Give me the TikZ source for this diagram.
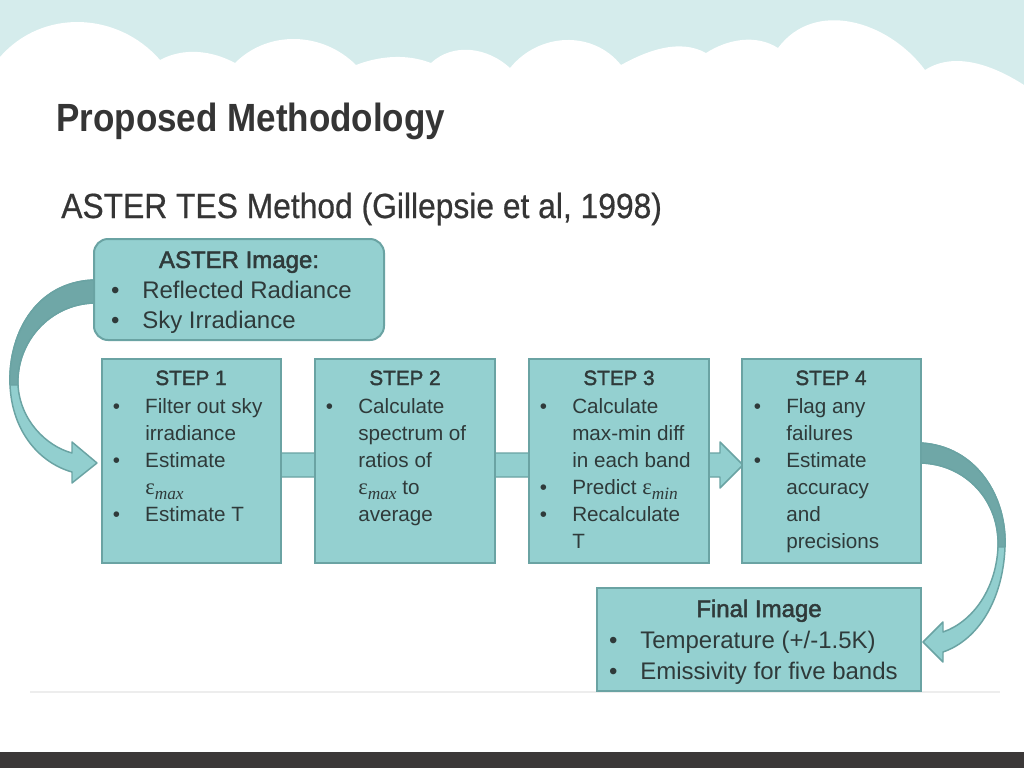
\documentclass[tikz,border=0pt]{standalone}
\usepackage{fontspec}
\setmainfont{Liberation Sans}
\newfontfamily\titlefont[FakeStretch=0.89]{Liberation Sans}
\newfontfamily\subfont[FakeStretch=0.91,FakeBold=0.6]{Liberation Sans}
\newfontfamily\headfont[FakeBold=2]{Liberation Sans}
\newfontfamily\epsfont{Liberation Serif}
\usetikzlibrary{fit}
\definecolor{boxfill}{HTML}{94D0D0}
\definecolor{boxline}{HTML}{6AA3A3}
\definecolor{arrdark}{HTML}{6FA7A7}
\definecolor{arrlight}{HTML}{92CFCF}
\definecolor{skycol}{HTML}{D5ECEC}
\definecolor{txtcol}{HTML}{2F3A3A}
\definecolor{titlecol}{HTML}{353535}
\definecolor{barcol}{HTML}{3B3838}
\definecolor{faintcol}{HTML}{EDEDED}
\newcommand{\bu}{\llap{\textbullet\hspace{18.8pt}}}
\newcommand{\bub}{\llap{\textbullet\hspace{17pt}}}
\newcommand{\epsx}[1]{{\epsfont\fontsize{17}{18}\selectfont ε\raisebox{-0.25em}{\itshape\fontsize{13}{14}\selectfont #1}}}
\newcommand{\tline}[5]{\node[#1,anchor=base west] (#2) at (#3,#4) {#5};}
\newcommand{\thead}[5]{\node[#1,anchor=base] (#2) at (#3,#4) {#5};}
\begin{document}
\begin{tikzpicture}[x=0.75pt,y=-0.75pt,
  boxstyle/.style={draw=boxline, line width=1.5pt, fill=boxfill, inner sep=0pt},
  arrstyle/.style={draw=boxline, line width=1.1pt, line join=round},
  bodytxt/.style={inner sep=0pt, text=txtcol, font=\fontsize{15.5}{18}\selectfont},
  bodyhead/.style={inner sep=0pt, text=txtcol, font=\headfont\fontsize{15.5}{18}\selectfont},
  bigtxt/.style={inner sep=0pt, text=txtcol, font=\fontsize{18}{21}\selectfont},
  bighead/.style={inner sep=0pt, text=txtcol, font=\headfont\fontsize{18}{21}\selectfont},
  titletxt/.style={inner sep=0pt, text=titlecol, font=\titlefont\bfseries\fontsize{29.5}{33}\selectfont},
  subtxt/.style={inner sep=0pt, text=titlecol, font=\subfont\fontsize{26.2}{30}\selectfont}
]
\useasboundingbox (0,0) rectangle (1024,768);
% background
\fill[white] (0,0) rectangle (1024,768);
\fill[skycol] (0,0) rectangle (1024,110);
\fill[white] (0,57) .. controls (42.2,8.4) and (117.8,11.4) .. (160,60)
 .. controls (183.4,47.3) and (211.6,50.3) .. (235,63)
 .. controls (268.4,29.7) and (322.6,31.7) .. (356,65)
 .. controls (380.2,55.7) and (406.8,53.7) .. (431,63)
 .. controls (453.3,42.3) and (487.7,47.3) .. (510,68)
 .. controls (538.6,32.7) and (592.4,29.7) .. (621,65)
 .. controls (647.4,50.4) and (679.6,38.4) .. (706,53)
 .. controls (727.9,39) and (756.1,34) .. (778,48)
 .. controls (814.6,-1.3) and (888.4,20.7) .. (925,70)
 .. controls (955.1,50.7) and (993.9,65.7) .. (1024,85)
 -- (1024,130) -- (0,130) -- cycle;
\fill[barcol] (0,752) rectangle (1024,768);
\draw[faintcol, line width=0.8pt] (30,692) -- (1000,692);

% titles
\node[titletxt, anchor=base west] (title) at (56,131) {Proposed Methodology};
\node[subtxt, anchor=base west] (subtitle) at (61,218) {ASTER TES Method (Gillepsie et al, 1998)};

% box corners
\coordinate (s1tl) at (102,359); \coordinate (s1br) at (281,563);
\coordinate (s2tl) at (315,359); \coordinate (s2br) at (495,563);
\coordinate (s3tl) at (529,359); \coordinate (s3br) at (709,563);
\coordinate (s4tl) at (742,359); \coordinate (s4br) at (921,563);

% straight block arrow behind the steps
\draw[arrstyle, fill=arrlight] (200,453) -- (720,453) -- (720,442) -- (743,465)
  -- (720,488) -- (720,477) -- (200,477) -- cycle;

% left curved arrow (ASTER -> STEP 1)
\draw[arrstyle, fill=arrlight] (100,280) -- (94,280) .. controls (35,282) and (8,335) .. (10,385)
  .. controls (12,432) and (40,463) .. (72,472) -- (72,483) -- (97,463) -- (72,442) -- (72,453)
  .. controls (46,446) and (20,420) .. (18,385) .. controls (16,342) and (50,304) .. (94,303)
  -- (100,303) -- cycle;
\draw[arrstyle, fill=arrdark] (100,280) -- (94,280) .. controls (35,282) and (8,335) .. (10,385)
  -- (18,385) .. controls (16,342) and (50,304) .. (94,303) -- (100,303) -- cycle;

% right curved arrow (STEP 4 -> Final)
\draw[arrstyle, fill=arrlight] (915,443) -- (921,443) .. controls (975,446) and (1007,495) .. (1005,547)
  .. controls (1003,600) and (978,640) .. (943,652) -- (943,662) -- (923,642) -- (943,622) -- (943,632)
  .. controls (972,622) and (996,590) .. (998,547) .. controls (1000,500) and (965,464) .. (921,463)
  -- (915,463) -- cycle;
\draw[arrstyle, fill=arrdark] (915,443) -- (921,443) .. controls (975,446) and (1007,495) .. (1005,547)
  -- (998,547) .. controls (1000,500) and (965,464) .. (921,463) -- (915,463) -- cycle;

% boxes
\node[boxstyle, rounded corners=10.5pt, fit={(94,239) (384,340)}] (aster) {};
\node[boxstyle, fit=(s1tl)(s1br)] (s1) {};
\node[boxstyle, fit=(s2tl)(s2br)] (s2) {};
\node[boxstyle, fit=(s3tl)(s3br)] (s3) {};
\node[boxstyle, fit=(s4tl)(s4br)] (s4) {};
\node[boxstyle, fit={(597,588) (921,691)}] (final) {};

% ASTER box text
\thead{bighead}{asterh}{239}{268}{ASTER Image:}
\tline{bigtxt}{astera}{142}{298}{\bub Reflected Radiance}
\tline{bigtxt}{asterb}{142}{328}{\bub Sky Irradiance}

% STEP 1
\thead{bodyhead}{s1h}{191}{385}{STEP 1}
\tline{bodytxt}{s1a}{145}{413}{\bu Filter out sky}
\tline{bodytxt}{s1b}{145}{440}{irradiance}
\tline{bodytxt}{s1c}{145}{467}{\bu Estimate}
\tline{bodytxt}{s1d}{145}{494}{\epsx{max}}
\tline{bodytxt}{s1e}{145}{521}{\bu Estimate T}

% STEP 2
\thead{bodyhead}{s2h}{405}{385}{STEP 2}
\tline{bodytxt}{s2a}{358}{413}{\bu Calculate}
\tline{bodytxt}{s2b}{358}{440}{spectrum of}
\tline{bodytxt}{s2c}{358}{467}{ratios of}
\tline{bodytxt}{s2d}{358}{494}{\epsx{max} to}
\tline{bodytxt}{s2e}{358}{521}{average}

% STEP 3
\thead{bodyhead}{s3h}{619}{385}{STEP 3}
\tline{bodytxt}{s3a}{572}{413}{\bu Calculate}
\tline{bodytxt}{s3b}{572}{440}{max-min diff}
\tline{bodytxt}{s3c}{572}{467}{in each band}
\tline{bodytxt}{s3d}{572}{494}{\bu Predict \epsx{min}}
\tline{bodytxt}{s3e}{572}{521}{\bu Recalculate}
\tline{bodytxt}{s3f}{572}{548}{T}

% STEP 4
\thead{bodyhead}{s4h}{831}{385}{STEP 4}
\tline{bodytxt}{s4a}{786}{413}{\bu Flag any}
\tline{bodytxt}{s4b}{786}{440}{failures}
\tline{bodytxt}{s4c}{786}{467}{\bu Estimate}
\tline{bodytxt}{s4d}{786}{494}{accuracy}
\tline{bodytxt}{s4e}{786}{521}{and}
\tline{bodytxt}{s4f}{786}{548}{precisions}

% Final
\thead{bighead}{finalh}{759}{617}{Final Image}
\tline{bigtxt}{finala}{640}{648}{\bub Temperature (+/-1.5K)}
\tline{bigtxt}{finalb}{640}{679}{\bub Emissivity for five bands}
\end{tikzpicture}
\end{document}
